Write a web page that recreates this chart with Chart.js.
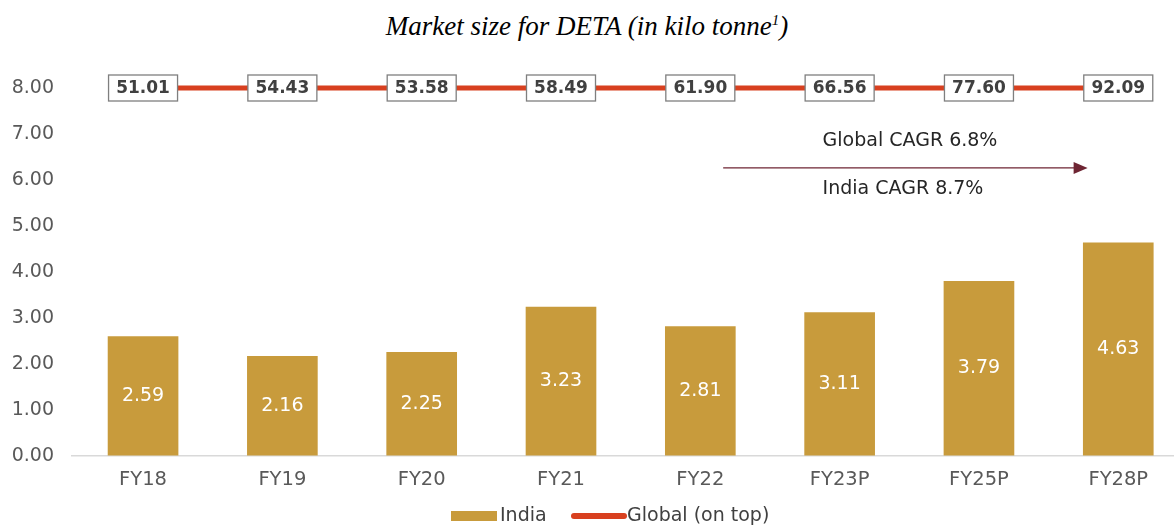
<!DOCTYPE html>
<html>
<head>
<meta charset="utf-8">
<script src="https://cdn.jsdelivr.net/npm/chart.js@4.4.1/dist/chart.umd.min.js"></script>
<style>
  html, body { margin: 0; padding: 0; background: #fff; }
  #wrap { position: relative; width: 1174px; height: 527px; }
  #title {
    position: absolute; left: 0; top: 11px; width: 1174px; text-align: center;
    font-family: "Liberation Serif", "DejaVu Serif", serif; font-style: italic;
    font-size: 27px; color: #000;
  }
  #title sup { font-size: 15px; }
  canvas { position: absolute; left: 0; top: 0; }
</style>
</head>
<body>
<div id="wrap">
  <div id="title">Market size for DETA (in kilo tonne<sup>1</sup>)</div>
  <canvas id="deta" width="1174" height="527"></canvas>
</div>
<script>
const categories = ["FY18", "FY19", "FY20", "FY21", "FY22", "FY23P", "FY25P", "FY28P"];
const indiaValues = [2.59, 2.16, 2.25, 3.23, 2.81, 3.11, 3.79, 4.63];
const globalValues = [51.01, 54.43, 53.58, 58.49, 61.90, 66.56, 77.60, 92.09];
const globalRowLevel = 8; // global series is plotted along the top gridline
const yTicks = [0, 1, 2, 3, 4, 5, 6, 7, 8];
const cagrNotes = ["Global CAGR 6.8%", "India CAGR 8.7%"];

const GOLD = "#C89B3C";
const RED = "#D8401F";
const FONT = "'DejaVu Sans', Verdana, sans-serif";

// white value labels centred in the bars + boxed global values on the line
const labelsPlugin = {
    id: "labels",
    afterDatasetsDraw(chart) {
        const ctx = chart.ctx;
        const bars = chart.getDatasetMeta(0).data;
        ctx.save();
        ctx.font = "19px " + FONT;
        ctx.fillStyle = "#fff";
        ctx.textAlign = "center";
        ctx.textBaseline = "middle";
        bars.forEach((b, i) => {
            ctx.fillText(indiaValues[i].toFixed(2), b.x, (b.y + b.base) / 2);
        });

        const pts = chart.getDatasetMeta(1).data;
        ctx.font = "bold 17px " + FONT;
        pts.forEach((p, i) => {
            const w = 69, h = 26;
            ctx.fillStyle = "#fff";
            ctx.fillRect(p.x - w / 2, p.y - h / 2, w, h);
            ctx.strokeStyle = "#7f7f7f";
            ctx.lineWidth = 1.3;
            ctx.strokeRect(p.x - w / 2, p.y - h / 2, w, h);
            ctx.fillStyle = "#404040";
            ctx.fillText(globalValues[i].toFixed(2), p.x, p.y + 1);
        });
        ctx.restore();
    }
};

// CAGR arrow and notes
const arrowPlugin = {
    id: "cagrArrow",
    afterDraw(chart) {
        const ctx = chart.ctx;
        const x = chart.scales.x, y = chart.scales.y;
        const x0 = x.getPixelForValue(4.164), x1 = x.getPixelForValue(6.78);
        const yy = y.getPixelForValue(6.26);
        ctx.save();
        ctx.strokeStyle = "#6E2533";
        ctx.fillStyle = "#6E2533";
        ctx.lineWidth = 1.3;
        ctx.beginPath();
        ctx.moveTo(x0, yy);
        ctx.lineTo(x1 - 10, yy);
        ctx.stroke();
        ctx.beginPath();
        ctx.moveTo(x1, yy);
        ctx.lineTo(x1 - 14, yy - 6);
        ctx.lineTo(x1 - 14, yy + 6);
        ctx.closePath();
        ctx.fill();
        ctx.font = "19px " + FONT;
        ctx.fillStyle = "#262626";
        ctx.textAlign = "center";
        ctx.textBaseline = "middle";
        ctx.fillText(cagrNotes[0], 910, yy - 27);
        ctx.fillText(cagrNotes[1], 903, yy + 21);
        ctx.restore();
    }
};

// legend drawn by hand to get the reference's wide swatches
const legendPlugin = {
    id: "customLegend",
    afterDraw(chart) {
        const ctx = chart.ctx;
        const yy = 516;
        ctx.save();
        ctx.fillStyle = GOLD;
        ctx.fillRect(451, yy - 5, 46, 10);
        ctx.strokeStyle = RED;
        ctx.lineWidth = 6;
        ctx.lineCap = "round";
        ctx.beginPath();
        ctx.moveTo(574, yy);
        ctx.lineTo(624, yy);
        ctx.stroke();
        ctx.font = "19px " + FONT;
        ctx.fillStyle = "#404040";
        ctx.textBaseline = "middle";
        ctx.textAlign = "left";
        ctx.fillText("India", 500, yy);
        ctx.fillText("Global (on top)", 627, yy);
        ctx.restore();
    }
};

new Chart(document.getElementById("deta"), {
    data: {
        datasets: [
            {
                type: "bar",
                label: "India",
                data: indiaValues.map((v, i) => ({ x: i, y: v })),
                backgroundColor: GOLD,
                barThickness: 70,
                order: 2
            },
            {
                type: "line",
                label: "Global (on top)",
                data: globalValues.map((v, i) => ({ x: i, y: globalRowLevel })),
                borderColor: RED,
                borderWidth: 5,
                pointRadius: 0,
                clip: false,
                order: 1
            }
        ]
    },
    options: {
        responsive: false,
        animation: false,
        layout: { padding: { top: 88, bottom: 22, left: 0, right: 0 } },
        plugins: {
            legend: { display: false },
            tooltip: { enabled: false }
        },
        scales: {
            x: {
                type: "linear",
                offset: false,
                min: -0.51,
                max: 7.4,
                afterBuildTicks(scale) {
                    scale.ticks = categories.map((c, i) => ({ value: i }));
                },
                grid: { display: false, drawTicks: false, offset: false },
                border: { color: "#d9d9d9", width: 1.5 },
                ticks: {
                    padding: 13,
                    color: "#595959",
                    font: { family: FONT, size: 19.5 },
                    callback: (v) => categories[v]
                }
            },
            y: {
                min: 0,
                max: 8,
                afterBuildTicks(scale) {
                    scale.ticks = yTicks.map(v => ({ value: v }));
                },
                afterFit(scale) { scale.width = 72; },
                grid: { display: false, drawTicks: false },
                border: { display: false },
                ticks: {
                    padding: 18,
                    color: "#595959",
                    font: { family: FONT, size: 19 },
                    callback: (v) => v.toFixed(2)
                }
            }
        }
    },
    plugins: [labelsPlugin, arrowPlugin, legendPlugin]
});
</script>
</body>
</html>
